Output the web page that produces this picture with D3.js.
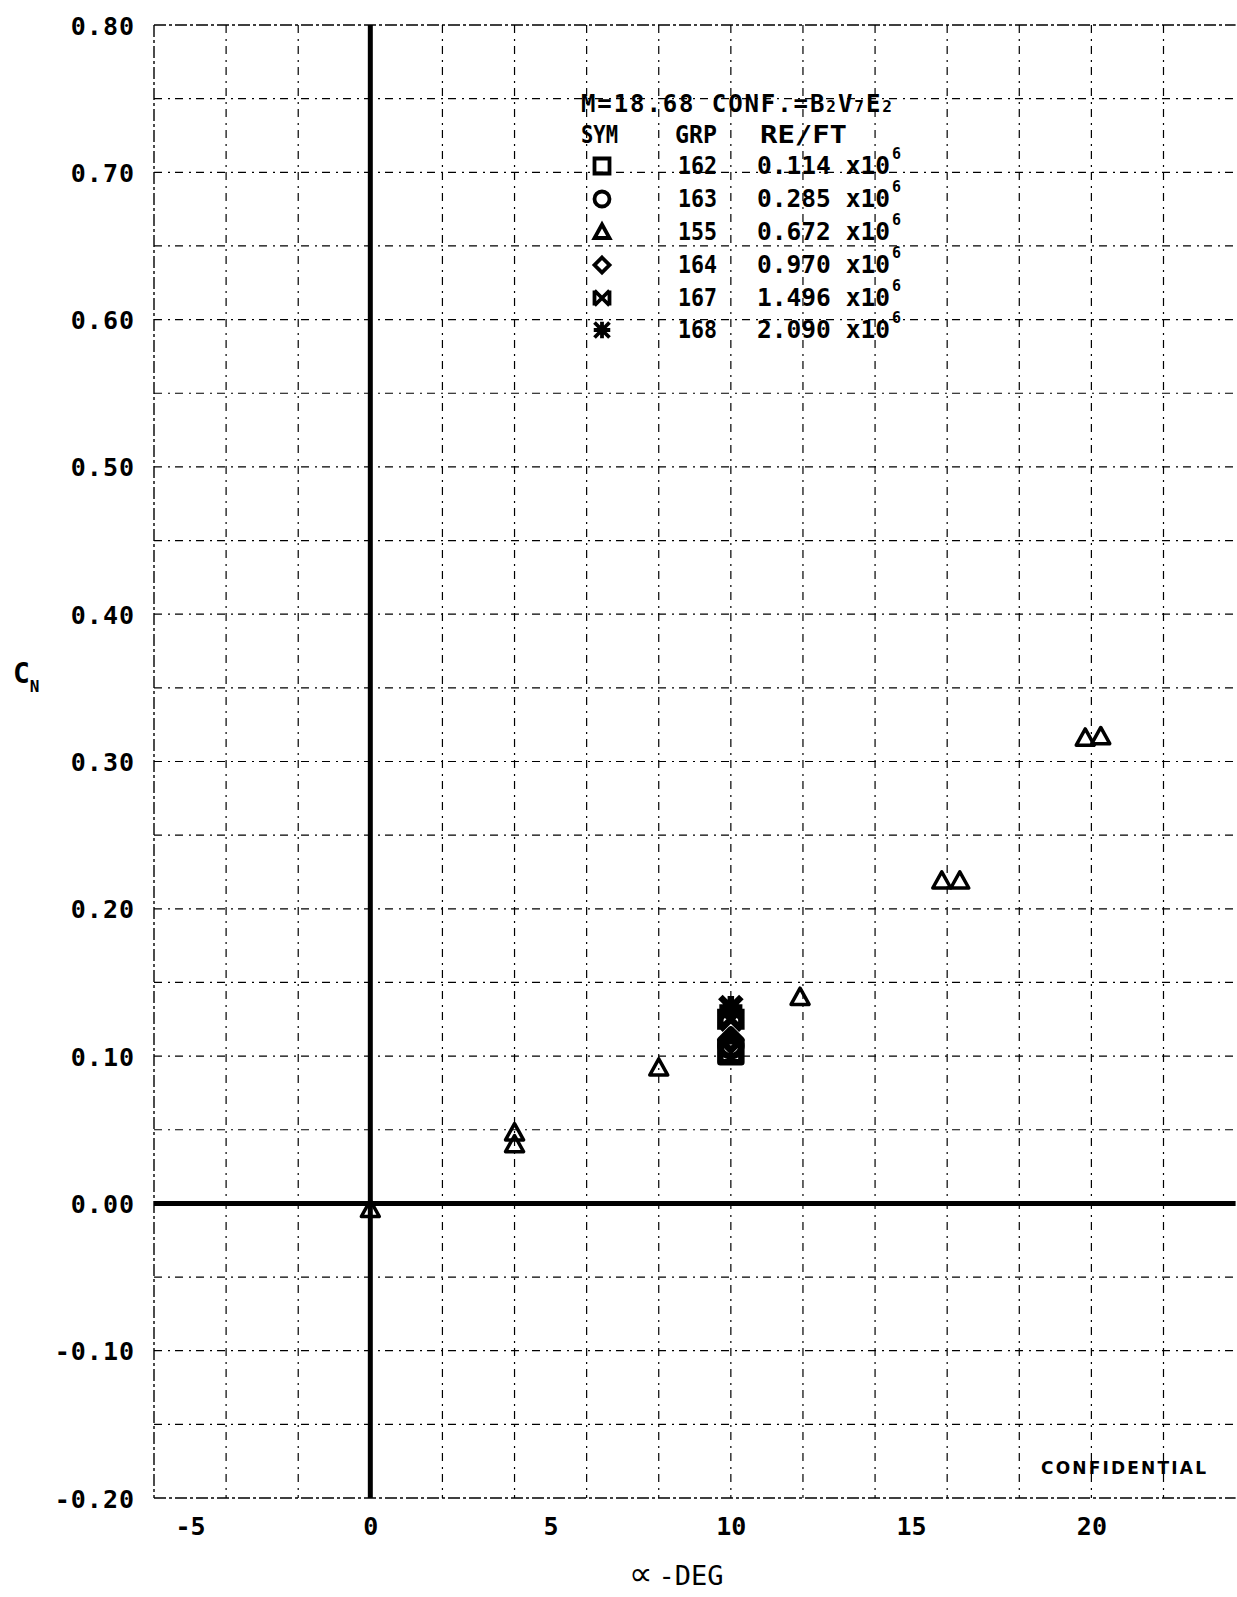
<!DOCTYPE html>
<html><head><meta charset="utf-8">
<script src="https://cdn.jsdelivr.net/npm/d3@7"></script>
<style>
html,body{margin:0;padding:0;background:#fff;}
svg{display:block;}
</style></head>
<body>
<script>
// ---------- DATA ----------
const groups = ["162","163","155","164","167","168"];
const reValues = ["0.114","0.285","0.672","0.970","1.496","2.090"];
const symbols = ["square","circle","triangle","diamond","bowtie","asterisk"];
const alpha155 = [0, 4, 4, 8, 11.92, 15.85, 16.35, 19.83, 20.26];
const cn155    = [-0.004, 0.048, 0.040, 0.092, 0.140, 0.219, 0.219, 0.316, 0.317];
const alpha162 = [10]; const cn162 = [0.103];
const alpha163 = [10]; const cn163 = [0.107];
const alpha164 = [10]; const cn164 = [0.111];
const alpha167 = [10]; const cn167 = [0.125];
const alpha168 = [10]; const cn168 = [0.133];
const yTicks = [0.8,0.7,0.6,0.5,0.4,0.3,0.2,0.1,0.0,-0.1,-0.2];
const yTickLabels = ["0.80","0.70","0.60","0.50","0.40","0.30","0.20","0.10","0.00","-0.10","-0.20"];
const xTicks = [-5,0,5,10,15,20];
const xTickLabels = ["-5","0","5","10","15","20"];
const titleMain = "M=18.68 CONF.=";
const headers = ["SYM","GRP","RE/FT"];

// ---------- SETUP ----------
const W = 1237, H = 1597;
const svg = d3.select("body").append("svg").attr("width", W).attr("height", H);
const x = d3.scaleLinear().domain([-6, 24]).range([154, 1235.6]);
const y = d3.scaleLinear().domain([-0.2, 0.8]).range([1498, 25]);
const FONT = "'DejaVu Sans Mono', monospace";
const dash = "8,6,2,5";

// grid
const gx = d3.range(-4, 24, 2).filter(v => v !== 0);
svg.append("g").selectAll("line").data(gx).join("line")
  .attr("x1", d => x(d)).attr("x2", d => x(d)).attr("y1", y(0.8)).attr("y2", y(-0.2))
  .attr("stroke", "#000").attr("stroke-width", 1.2).attr("stroke-dasharray", dash);
const gy = d3.range(-3, 16).map(i => +(i * 0.05).toFixed(2)).filter(v => v !== 0);
svg.append("g").selectAll("line").data(gy).join("line")
  .attr("x1", x(-6)).attr("x2", x(24)).attr("y1", d => y(d)).attr("y2", d => y(d))
  .attr("stroke", "#000").attr("stroke-width", 1.2).attr("stroke-dasharray", dash);
// frame (left, top, bottom)
[[x(-6), y(0.8), x(-6), y(-0.2)], [x(-6), y(0.8), x(24), y(0.8)], [x(-6), y(-0.2), x(24), y(-0.2)]]
  .forEach(s => svg.append("line").attr("x1", s[0]).attr("y1", s[1]).attr("x2", s[2]).attr("y2", s[3])
    .attr("stroke", "#000").attr("stroke-width", 1.4).attr("stroke-dasharray", "12,3,3,3"));
// thick zero axes
svg.append("line").attr("x1", x(0)).attr("x2", x(0)).attr("y1", y(0.8)).attr("y2", y(-0.2))
  .attr("stroke", "#000").attr("stroke-width", 5);
svg.append("line").attr("x1", x(-6)).attr("x2", x(24)).attr("y1", y(0)).attr("y2", y(0))
  .attr("stroke", "#000").attr("stroke-width", 5);

// axes labels
const yAxis = svg.append("g").attr("transform", `translate(${x(-6)},0)`)
  .call(d3.axisLeft(y).tickValues(yTicks).tickSize(0).tickPadding(19)
    .tickFormat((d, i) => yTickLabels[i]));
yAxis.select(".domain").remove();
yAxis.selectAll("text").attr("font-family", FONT).attr("font-weight", "bold")
  .attr("font-size", 25).attr("letter-spacing", 1).attr("fill", "#000").attr("dy", "0.36em");

const xAxis = svg.append("g").attr("transform", `translate(0,${y(-0.2)})`)
  .call(d3.axisBottom(x).tickValues(xTicks).tickSize(0).tickPadding(19)
    .tickFormat((d, i) => xTickLabels[i]));
xAxis.select(".domain").remove();
xAxis.selectAll("text").attr("font-family", FONT).attr("font-weight", "bold")
  .attr("font-size", 25).attr("fill", "#000");

const xl = svg.append("text").attr("x", 629).attr("y", 1585)
  .attr("font-family", FONT).attr("font-size", 27).attr("fill", "#000");
xl.append("tspan").attr("font-family", "'DejaVu Sans', sans-serif").attr("font-size", 33).text("∝");
xl.append("tspan").attr("dx", 6).text("-DEG");

const cn = svg.append("text").attr("x", 13).attr("y", 683).attr("font-family", FONT)
  .attr("font-weight", "bold").attr("font-size", 28).attr("fill", "#000");
cn.append("tspan").text("C");
cn.append("tspan").attr("dy", 9).attr("font-size", 16).text("N");

svg.append("text").attr("x", 1041).attr("y", 1474).attr("font-family", "'DejaVu Sans', sans-serif")
  .attr("font-weight", "bold").attr("font-size", 17).attr("textLength", 165)
  .attr("lengthAdjust", "spacing").attr("fill", "#000").text("CONFIDENTIAL");

// ---------- SYMBOLS ----------
function symPath(type, s) {
  const p = d3.path();
  if (type === "square") { p.rect(-s, -s, 2 * s, 2 * s); }
  else if (type === "circle") { p.moveTo(s, 0); p.arc(0, 0, s, 0, 2 * Math.PI); }
  else if (type === "triangle") { p.moveTo(0, -s); p.lineTo(s, s * 0.8); p.lineTo(-s, s * 0.8); p.closePath(); }
  else if (type === "diamond") { p.moveTo(0, -s); p.lineTo(s, 0); p.lineTo(0, s); p.lineTo(-s, 0); p.closePath(); }
  else if (type === "bowtie") {
    p.moveTo(-s, -s); p.lineTo(s, s); p.moveTo(s, -s); p.lineTo(-s, s);
    p.moveTo(-s, -s); p.lineTo(-s, s); p.moveTo(s, -s); p.lineTo(s, s);
  } else if (type === "asterisk") {
    p.moveTo(-s, -s); p.lineTo(s, s); p.moveTo(s, -s); p.lineTo(-s, s);
    p.moveTo(0, -s * 1.1); p.lineTo(0, s * 1.1); p.moveTo(-s * 1.1, 0); p.lineTo(s * 1.1, 0);
  }
  return p.toString();
}
const seriesData = [
  {g: "162", sym: "square", a: alpha162, c: cn162},
  {g: "163", sym: "circle", a: alpha163, c: cn163},
  {g: "155", sym: "triangle", a: alpha155, c: cn155},
  {g: "164", sym: "diamond", a: alpha164, c: cn164},
  {g: "167", sym: "bowtie", a: alpha167, c: cn167},
  {g: "168", sym: "asterisk", a: alpha168, c: cn168}
];
seriesData.forEach(sd => {
  const pts = sd.a.map((a, i) => ({a, c: sd.c[i]}));
  const tri = sd.sym === "triangle";
  svg.append("g").selectAll("path").data(pts).join("path")
    .attr("transform", d => `translate(${x(d.a)},${y(d.c)})`)
    .attr("d", symPath(sd.sym, tri ? 9 : 10.5))
    .attr("fill", "none").attr("stroke", "#000")
    .attr("stroke-width", tri ? 3.5 : 6.5).attr("stroke-linejoin", "round");
});

// ---------- LEGEND ----------
const lg = svg.append("g").attr("font-family", FONT).attr("font-weight", "bold").attr("fill", "#000");
const t = lg.append("text").attr("x", 581).attr("y", 112).attr("font-size", 24).attr("letter-spacing", 1.9);
t.append("tspan").text(titleMain);
t.append("tspan").text("B");
t.append("tspan").attr("font-size", 16).attr("letter-spacing", 2).text("2");
t.append("tspan").text("V");
t.append("tspan").attr("font-size", 16).attr("letter-spacing", 2).text("7");
t.append("tspan").text("E");
t.append("tspan").attr("font-size", 16).text("2");
const hx = [581, 675, 760];
const hw = [37, 42, 87];
headers.forEach((h, i) => lg.append("text").attr("x", hx[i]).attr("y", 143).attr("font-size", 24)
  .attr("textLength", hw[i]).attr("lengthAdjust", "spacingAndGlyphs").text(h));
const rowY = [174, 207, 240, 273, 306, 338];
groups.forEach((g, i) => {
  lg.append("path").attr("transform", `translate(602,${rowY[i] - 8})`)
    .attr("d", symPath(symbols[i], 7.5)).attr("fill", "none").attr("stroke", "#000").attr("stroke-width", 3.8);
  lg.append("text").attr("x", 678).attr("y", rowY[i]).attr("font-size", 24)
    .attr("textLength", 39).attr("lengthAdjust", "spacingAndGlyphs").text(g);
  lg.append("text").attr("x", 757).attr("y", rowY[i]).attr("font-size", 24)
    .attr("textLength", 133).attr("lengthAdjust", "spacingAndGlyphs").text(reValues[i] + " x10");
  lg.append("text").attr("x", 892).attr("y", rowY[i] - 15).attr("font-size", 15).text("6");
});
</script>
</body></html>
